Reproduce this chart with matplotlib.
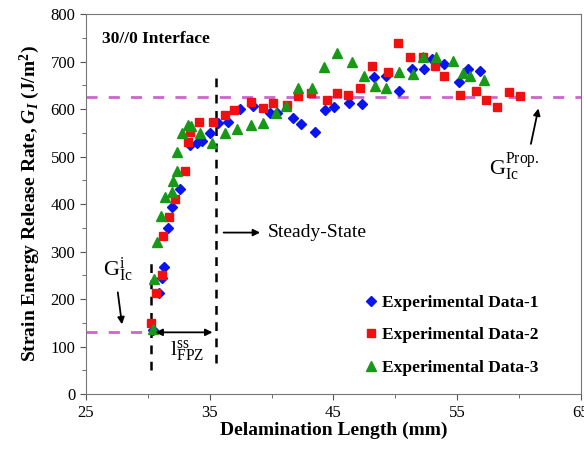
import matplotlib
matplotlib.use("Agg")
import matplotlib.pyplot as plt

plt.rcParams['font.family'] = ['Liberation Serif', 'DejaVu Serif']
plt.rcParams['mathtext.fontset'] = 'custom'
plt.rcParams['mathtext.rm'] = 'Liberation Serif'
plt.rcParams['mathtext.it'] = 'Liberation Serif:italic'
plt.rcParams['mathtext.bf'] = 'Liberation Serif:bold'
plt.rcParams['mathtext.bfit'] = 'Liberation Serif:bold:italic'

# Experimental Data-1 (blue diamonds)
x1 = [30.44, 30.93, 31.12, 31.31, 31.65, 31.98, 32.60, 33.41, 33.95, 34.35,
      35.02, 35.70, 36.50, 37.45, 38.48, 39.87, 40.42, 41.71, 42.36, 43.47,
      44.32, 45.05, 46.22, 47.29, 48.28, 49.25, 50.33, 51.33, 52.32, 52.95,
      53.94, 55.13, 55.86, 56.85]
g1 = [135, 212, 244, 268, 349, 394, 432, 524, 528, 533,
      549, 570, 573, 600, 606, 592, 591, 582, 568, 552,
      599, 605, 613, 611, 668, 669, 638, 684, 684, 705,
      695, 657, 684, 680]

# Experimental Data-2 (red squares)
x2 = [30.23, 30.66, 31.12, 31.20, 31.73, 32.19, 33.00, 33.27, 33.41, 34.16,
      35.29, 36.24, 36.99, 38.34, 39.28, 40.09, 41.22, 42.16, 43.19, 44.51,
      45.27, 46.20, 47.11, 48.10, 49.44, 50.20, 51.19, 52.27, 53.21, 53.94,
      55.18, 56.50, 57.28, 58.20, 59.20, 60.08]
g2 = [149, 213, 250, 333, 372, 410, 470, 531, 552, 573,
      573, 587, 598, 615, 603, 612, 608, 627, 633, 619,
      633, 629, 644, 691, 678, 738, 709, 710, 691, 670,
      630, 638, 619, 605, 635, 628]

# Experimental Data-3 (green triangles)
x3 = [30.39, 30.50, 30.72, 31.04, 31.39, 31.98, 32.06, 32.33, 32.38, 32.74,
      33.27, 33.49, 34.22, 35.19, 36.24, 37.18, 38.34, 39.33, 40.36, 41.17,
      42.16, 43.25, 44.26, 45.27, 46.46, 47.47, 48.36, 49.25, 50.33, 51.46,
      52.27, 53.29, 54.64, 55.50, 56.04, 57.12]
g3 = [136, 242, 321, 375, 414, 426, 448, 470, 510, 549,
      566, 564, 550, 528, 549, 557, 566, 571, 592, 606,
      645, 644, 688, 718, 699, 670, 648, 645, 678, 674,
      710, 709, 701, 675, 669, 661]

x_major = [25, 35, 45, 55, 65]
x_minor = [30, 40, 50, 60]
y_major = list(range(0, 801, 100))
y_minor = list(range(50, 800, 100))

g_init = 130
g_prop = 625
x_init = 30.3
x_ss = 35.5

fig = plt.figure(figsize=(5.84, 4.53), dpi=100)
ax = fig.add_axes([0.147, 0.130, 0.848, 0.839])

pink = '#cc66cc'
ax.plot([25, 65], [g_prop, g_prop], ls=(0, (4, 4)), color=pink, lw=2, zorder=1)
ax.plot([25, x_init], [g_init, g_init], ls=(0, (4, 4)), color=pink, lw=2, zorder=1)
ax.plot([x_init, x_init], [50, 288], ls=(0, (3.5, 3)), color='black', lw=1.8, zorder=1)
ax.plot([x_ss, x_ss], [65, 670], ls=(0, (3.5, 3)), color='black', lw=1.8, zorder=1)

ax.plot(x1, g1, 'D', color='#0a14f0', ms=5, ls='none', label='Experimental Data-1', zorder=3)
ax.plot(x2, g2, 's', color='#f01010', ms=6, ls='none', label='Experimental Data-2', zorder=3)
ax.plot(x3, g3, '^', color='#179917', ms=7, ls='none', label='Experimental Data-3', zorder=3)

ax.set_xlim(25, 65)
ax.set_ylim(0, 800)
ax.set_xticks(x_major)
ax.set_xticks(x_minor, minor=True)
ax.set_yticks(y_major)
ax.set_yticks(y_minor, minor=True)
ax.tick_params(which='both', direction='out', colors='#555555', labelcolor='black',
               labelsize=12)
ax.tick_params(which='major', length=4)
ax.tick_params(which='minor', length=3)
for s in ax.spines.values():
    s.set_color('#777777')

ax.set_xlabel('Delamination Length (mm)', fontsize=14, fontweight='bold', labelpad=1)
ax.set_ylabel(r'Strain Energy Release Rate, $\mathbfit{G}_{\mathbfit{I}}$ (J/m$^{\mathbf{2}}$)',
              fontsize=14, fontweight='bold', labelpad=6)

ax.text(26.3, 748, '30//0 Interface', fontsize=12.5, fontweight='bold', va='center')
ax.annotate('', xy=(39.3, 340), xytext=(35.9, 340),
            arrowprops=dict(arrowstyle='-|>', color='black', lw=1.3))
ax.text(39.7, 340, 'Steady-State', fontsize=14, va='center')
ax.annotate('', xy=(x_init + 0.1, g_init), xytext=(x_ss - 0.05, g_init),
            arrowprops=dict(arrowstyle='<|-|>', color='black', lw=1.3))
ax.text(33.2, 90, r'$\mathrm{l}_{\mathrm{FPZ}}^{\mathrm{ss}}$', fontsize=16, ha='center', va='center')
ax.text(27.6, 262, r'$\mathrm{G}_{\mathrm{Ic}}^{\mathrm{i}}$', fontsize=16, ha='center', va='center')
ax.annotate('', xy=(27.95, 141), xytext=(27.55, 220),
            arrowprops=dict(arrowstyle='-|>', color='black', lw=1.3))
ax.text(59.6, 478, r'$\mathrm{G}_{\mathrm{Ic}}^{\mathrm{Prop.}}$', fontsize=16, ha='center', va='center')
ax.annotate('', xy=(61.6, 607), xytext=(60.9, 521),
            arrowprops=dict(arrowstyle='-|>', color='black', lw=1.3))

leg = ax.legend(loc='upper left', bbox_to_anchor=(0.545, 0.28), frameon=False,
                prop={'weight': 'bold', 'size': 12.5}, handletextpad=0.1,
                labelspacing=0.95, handlelength=1.0, borderaxespad=0)

fig.savefig('out.png', dpi=100)
